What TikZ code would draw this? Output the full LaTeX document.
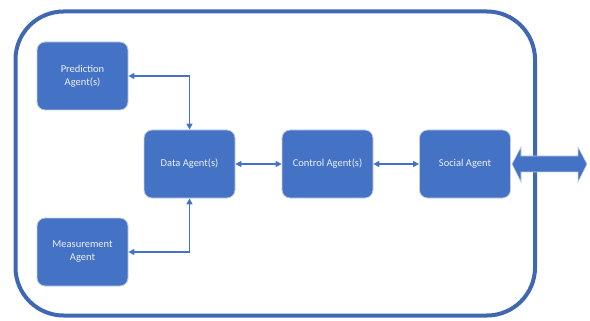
\documentclass[tikz,border=0pt]{standalone}
\usepackage{fontspec}
\setmainfont{Carlito}
\usetikzlibrary{arrows.meta}
\definecolor{boxblue}{HTML}{4472C4}
\definecolor{frameblue}{HTML}{4067B1}
\definecolor{boxedge}{HTML}{C5CEDD}
\definecolor{txt}{HTML}{EEF1F8}
\begin{document}
\begin{tikzpicture}[x=1pt,y=-1pt,
  agent/.style={draw=boxedge,line width=0.8pt,fill=boxblue,rounded corners=8pt,
    minimum width=91pt,minimum height=68pt,inner sep=2pt,align=center,
    text=txt,font=\fontsize{10.5}{13}\selectfont},
  link/.style={draw=boxblue,line width=1.6pt,{Triangle[length=6pt,width=6pt]}-{Triangle[length=6pt,width=6pt]}},
  bigarrow/.style={draw=boxedge,line width=0.6pt,fill=boxblue}
]
\useasboundingbox (0,0) rectangle (590,321);
\draw[frameblue,line width=4pt,rounded corners=48pt] (15.5,11.5) rectangle (535,315.5);
\node[agent] (pred) at (82.5,76) {Prediction\\Agent(s)};
\node[agent] (meas) at (82.5,252) {Measurement\\Agent};
\node[agent] (data) at (189.5,164) {Data Agent(s)};
\node[agent] (ctrl) at (327.5,164) {Control Agent(s)};
\node[agent] (soc) at (465,164) {Social Agent};
\draw[link] (pred.east) -| (data.north);
\draw[link] (meas.east) -| (data.south);
\draw[link] (data.east) -- (ctrl.west);
\draw[link] (ctrl.east) -- (soc.west);
\draw[bigarrow] (512,164) -- (521,147) -- (521,156) -- (578,156) -- (578,147)
  -- (587,164) -- (578,182) -- (578,172) -- (521,172) -- (521,182) -- cycle;
\end{tikzpicture}
\end{document}
